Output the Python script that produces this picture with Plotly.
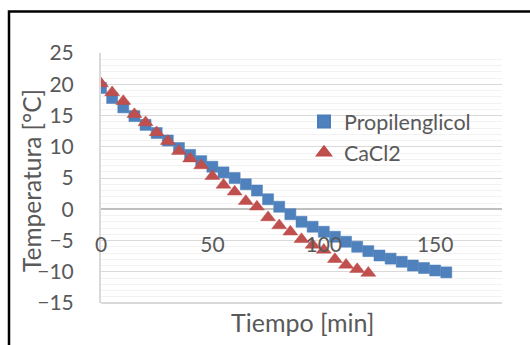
import plotly.graph_objects as go

# Tiempo [min] and temperature readings for each cooling fluid
tiempo_pg = [0, 5, 10, 15, 20, 25, 30, 35, 40, 45, 50, 55, 60, 65, 70, 75,
             80, 85, 90, 95, 100, 105, 110, 115, 120, 125, 130, 135, 140, 145, 150, 155]
temp_pg = [19.4, 17.8, 16.3, 14.9, 13.5, 12.2, 11.0, 9.8, 8.7, 7.7, 6.8, 5.9,
           5.0, 4.0, 3.0, 1.6, 0.4, -0.8, -2.0, -2.8, -3.6, -4.4, -5.2, -6.0,
           -6.7, -7.4, -7.9, -8.4, -9.0, -9.4, -9.8, -10.1]

tiempo_cacl2 = [0, 5, 10, 15, 20, 25, 30, 35, 40, 45, 50, 55, 60, 65, 70, 75,
                80, 85, 90, 95, 100, 105, 110, 115, 120]
temp_cacl2 = [20.1, 18.7, 17.3, 15.2, 13.9, 12.3, 10.9, 9.3, 8.1, 7.0, 5.3, 3.9,
              2.8, 1.3, 0.4, -1.3, -2.6, -3.6, -4.8, -5.7, -6.5, -8.0, -8.9, -9.6, -10.2]

x_ticks = [0, 50, 100, 150]
y_ticks = [-15, -10, -5, 0, 5, 10, 15, 20, 25]

FONT = "Lato"
TEXT = "#595959"

fig = go.Figure()
fig.add_trace(go.Scatter(
    x=tiempo_pg, y=temp_pg, mode="markers", name="Propilenglicol",
    marker=dict(symbol="square", size=11, color="#4F81BD",
                line=dict(width=0.5, color="#4A7EBB")),
))
fig.add_trace(go.Scatter(
    x=tiempo_cacl2, y=temp_cacl2, mode="markers", name="CaCl2",
    marker=dict(symbol="triangle-up", size=13, color="#C0504D",
                line=dict(width=0.5, color="#BE4B48")),
))

W, H = 530, 345
L, R, T, B = 101, 28, 53, 42
plot_w = W - L - R
plot_h = H - T - B


def px_x(px):
    return (px - L) / plot_w


def px_y(py):
    return (H - B - py) / plot_h


fig.update_layout(
    width=W, height=H,
    margin=dict(l=L, r=R, t=T, b=B, pad=0),
    paper_bgcolor="white", plot_bgcolor="white",
    font=dict(family=FONT, color=TEXT, size=21),
    showlegend=True,
    legend=dict(x=px_x(304), y=px_y(101),
                xanchor="left", yanchor="top",
                bgcolor="rgba(0,0,0,0)", font=dict(size=21.5, color=TEXT),
                itemsizing="constant", tracegroupgap=0),
    xaxis=dict(
        range=[0, 180], tickvals=x_ticks, showgrid=False, zeroline=False,
        showline=False, ticks="", anchor="free", position=px_y(230),
        tickfont=dict(size=21, color=TEXT, family=FONT),
    ),
    yaxis=dict(
        range=[-15, 25], tickvals=y_ticks, showgrid=True, gridcolor="#D9D9D9",
        gridwidth=1, zeroline=True, zerolinecolor="#BFBFBF", zerolinewidth=1.5,
        showline=True, linecolor="#D9D9D9", linewidth=2, mirror=False,
        ticks="outside", ticklen=21, tickcolor="rgba(0,0,0,0)",
        tickfont=dict(size=21, color=TEXT, family=FONT),
        minor=dict(dtick=1, showgrid=True, gridcolor="#F2F2F2", gridwidth=1, ticks=""),
    ),
)

# axis titles
fig.add_annotation(text="Tiempo [min]", xref="paper", yref="paper",
                   x=px_x(302), y=px_y(322), xanchor="center", yanchor="middle",
                   showarrow=False, font=dict(size=25, color=TEXT, family=FONT))
fig.add_annotation(text="Temperatura [°C]", xref="paper", yref="paper",
                   x=px_x(31), y=px_y(181), xanchor="center", yanchor="middle",
                   textangle=-90, showarrow=False,
                   font=dict(size=24.5, color=TEXT, family=FONT))

# outer page frame
fig.add_shape(type="rect", xref="paper", yref="paper",
              x0=px_x(9), x1=px_x(W + 20), y0=px_y(H + 20), y1=px_y(11.5),
              line=dict(color="black", width=2.5), layer="above")
# bottom edge of plot area
fig.add_shape(type="line", xref="paper", yref="paper", x0=0, x1=1, y0=0, y1=0,
              line=dict(color="#D9D9D9", width=2))

fig.write_html("out.html")
